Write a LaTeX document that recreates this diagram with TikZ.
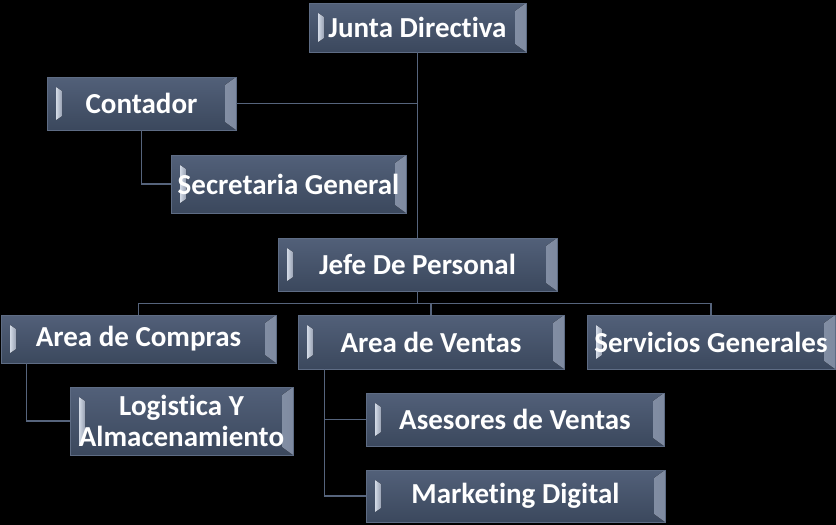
\documentclass[tikz,border=0pt]{standalone}
\usepackage{fontspec}
\setmainfont{Carlito}[RawFeature=-liga]
\usetikzlibrary{calc}
\definecolor{boxtop}{HTML}{526079}
\definecolor{boxbot}{HTML}{3B485D}
\definecolor{boxedge}{HTML}{5E6C84}
\definecolor{bevlight}{HTML}{D3DAE6}
\definecolor{bevdark}{HTML}{7E8AA0}
\definecolor{linkcol}{HTML}{56647C}
\tikzset{
  orgbox/.style={rectangle, inner sep=0pt, draw=boxedge, line width=0.8pt,
    top color=boxtop, bottom color=boxbot, text=white,
    font=\fontsize{29}{31}\selectfont\bfseries, align=center,
    path picture={
      \fill[left color=bevlight, right color=bevdark]
        (path picture bounding box.north east) -- ++(-11pt,-8pt)
        -- ($(path picture bounding box.south east)+(-11pt,8pt)$)
        -- (path picture bounding box.south east) -- cycle;
      \fill[left color=bevlight, right color=bevdark!80]
        ($(path picture bounding box.north west)+(9pt,-10pt)$) -- ++(6pt,-4pt)
        -- ($(path picture bounding box.south west)+(15pt,14pt)$)
        -- ++(-6pt,-4pt) -- cycle;
    }},
  link/.style={draw=linkcol, line width=1.7pt}
}
\newcommand{\orgnode}[6]{%
  \node[orgbox, minimum width=#4pt-#2pt, minimum height=#5pt-#3pt]
    (#1) at ({(#2+#4)/2},{(#3+#5)/2}) {#6};}
\begin{document}
\begin{tikzpicture}[x=1pt,y=-1pt]
\fill[black] (0,0) rectangle (836,525);
\useasboundingbox (0,0) rectangle (836,525);
\orgnode{junta}{309}{3}{526}{52}{Junta Directiva}
\orgnode{contador}{47}{77}{236}{130}{Contador}
\orgnode{secretaria}{171}{155}{406}{213}{Secretaria General}
\orgnode{jefe}{278}{238}{557}{291}{Jefe De Personal}
\orgnode{compras}{1}{315}{276}{363}{Area de Compras}
\orgnode{ventas}{298}{315}{564}{369}{Area de Ventas}
\orgnode{servicios}{587}{315}{835}{369}{Servicios Generales}
\orgnode{logistica}{70}{387}{293}{455}{Logistica Y\\Almacenamiento}
\orgnode{asesores}{366}{393}{664}{446}{Asesores de Ventas}
\orgnode{marketing}{366}{470}{665}{522}{Marketing Digital}
\path[link] (junta.south) -- (jefe.north);
\path[link] (contador.east) -- (contador.east -| junta.south);
\path[link] (contador.south) |- (secretaria.west);
\coordinate (bus) at ($(jefe.south)+(0,12)$);
\path[link] (jefe.south) -- (bus);
\path[link] (bus -| compras.north) -- (bus -| servicios.north);
\path[link] (bus -| compras.north) -- (compras.north);
\path[link] (bus -| ventas.north) -- (ventas.north);
\path[link] (bus -| servicios.north) -- (servicios.north);
\coordinate (cdrop) at ($(compras.south west)+(26,0)$);
\path[link] (cdrop) |- (logistica.west);
\coordinate (vdrop) at ($(ventas.south west)+(27,0)$);
\path[link] (vdrop) |- (asesores.west);
\path[link] (vdrop) |- (marketing.west);
\end{tikzpicture}
\end{document}
